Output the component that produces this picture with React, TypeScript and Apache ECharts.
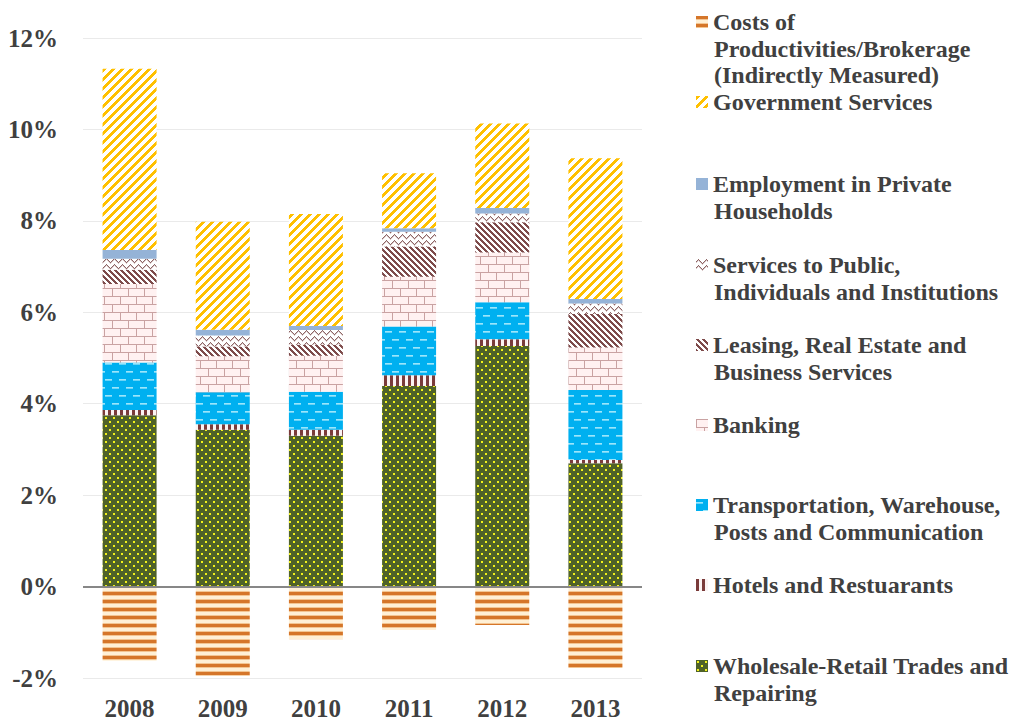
import React, { useEffect, useRef } from "react";
import * as echarts from "echarts";

const categories = ["2008", "2009", "2010", "2011", "2012", "2013"];

const wholesale = [3.75, 3.43, 3.3, 4.39, 5.26, 2.7];
const hotels = [0.11, 0.12, 0.13, 0.23, 0.15, 0.07];
const transport = [1.04, 0.7, 0.83, 1.07, 0.81, 1.53];
const banking = [1.72, 0.79, 0.79, 1.09, 1.09, 0.93];
const leasing = [0.31, 0.21, 0.24, 0.66, 0.66, 0.73];
const services = [0.24, 0.24, 0.32, 0.32, 0.19, 0.23];
const employment = [0.19, 0.13, 0.09, 0.08, 0.12, 0.1];
const government = [3.97, 2.36, 2.45, 1.2, 1.85, 3.08];
const costs = [-1.62, -1.95, -1.15, -0.95, -0.84, -1.78];

const yTicks = { min: -2, max: 12, interval: 2 };

const names = {
  wholesale: "Wholesale-Retail Trades and Repairing",
  hotels: "Hotels and Restuarants",
  transport: "Transportation, Warehouse, Posts and Communication",
  banking: "Banking",
  leasing: "Leasing, Real Estate and Business Services",
  services: "Services to Public, Individuals and Institutions",
  employment: "Employment in Private Households",
  government: "Government Services",
  costs: "Costs of Productivities/Brokerage (Indirectly Measured)",
};

const legendLines: { key: string; y: number; lines: string[] }[] = [
  { key: "costs", y: 22, lines: ["Costs of", "Productivities/Brokerage", "(Indirectly Measured)"] },
  { key: "government", y: 102, lines: ["Government Services"] },
  { key: "employment", y: 184, lines: ["Employment in Private", "Households"] },
  { key: "services", y: 265, lines: ["Services to Public,", "Individuals and Institutions"] },
  { key: "leasing", y: 345, lines: ["Leasing, Real Estate and", "Business Services"] },
  { key: "banking", y: 425, lines: ["Banking"] },
  { key: "transport", y: 505, lines: ["Transportation, Warehouse,", "Posts and Communication"] },
  { key: "hotels", y: 585, lines: ["Hotels and Restuarants"] },
  { key: "wholesale", y: 666, lines: ["Wholesale-Retail Trades and", "Repairing"] },
];

function makeTile(w: number, h: number, f: (x: number, y: number) => string) {
  const c = document.createElement("canvas");
  c.width = w;
  c.height = h;
  const ctx = c.getContext("2d")!;
  for (let y = 0; y < h; y++) {
    for (let x = 0; x < w; x++) {
      ctx.fillStyle = f(x, y);
      ctx.fillRect(x, y, 1, 1);
    }
  }
  return { image: c, repeat: "repeat", imageWidth: w, imageHeight: h } as any;
}

function buildPatterns() {
  const wholesaleP = makeTile(8, 8, (x, y) => {
    const d1 = x >= 1 && x <= 2 && y >= 1 && y <= 2;
    const d2 = x >= 5 && x <= 6 && y >= 5 && y <= 6;
    return d1 || d2 ? "#F2F21A" : "#4F6228";
  });
  const hotelsP = makeTile(6, 6, (x) => (x < 3 ? "#7A3B3A" : "#FBF3F3"));
  const transportP = makeTile(14, 16, (x, y) => {
    if ((y === 3 || y === 4) && x >= 0 && x < 7) return y === 3 ? "#9BE6FB" : "#6AD3F6";
    if ((y === 11 || y === 12) && x >= 7 && x < 14) return y === 11 ? "#9BE6FB" : "#6AD3F6";
    return "#00B0F0";
  });
  const bankingP = makeTile(16, 16, (x, y) => {
    if (y === 0 || y === 8) return "#C9A2A2";
    if (y < 8 && x === 0) return "#C9A2A2";
    if (y > 8 && x === 8) return "#C9A2A2";
    return "#FFF1F1";
  });
  const leasingP = makeTile(6, 6, (x, y) => (((x - y) % 6 + 6) % 6 < 3 ? "#7E4B4B" : "#FFFFFF"));
  const wave = [2, 1, 0, 1, 2, 3, 4, 3];
  const servicesP = makeTile(8, 6, (x, y) => (wave[x] === y ? "#8E6565" : y === wave[x] + 1 ? "#D8C6C6" : "#FFFFFF"));
  const governmentP = makeTile(9, 9, (x, y) => ((x + y) % 9 < 4 ? "#FFC000" : "#FFFFFF"));
  const costsP = makeTile(4, 8, (_x, y) => {
    if (y < 3) return "#D5762A";
    if (y === 3 || y === 7) return "#F3C592";
    return "#FFF0D6";
  });
  return {
    wholesale: wholesaleP,
    hotels: hotelsP,
    transport: transportP,
    banking: bankingP,
    leasing: leasingP,
    services: servicesP,
    employment: "#95B3D7",
    government: governmentP,
    costs: costsP,
  } as Record<string, any>;
}

export default function App() {
  const ref = useRef<HTMLDivElement>(null);

  useEffect(() => {
    if (!ref.current) return;
    const chart = echarts.init(ref.current, undefined, { renderer: "svg" });
    const pats = buildPatterns();
    const font = "Liberation Serif";
    const textColor = "#404040";
    const legendSize = 24;

    const dataMap: Record<string, number[]> = {
      wholesale,
      hotels,
      transport,
      banking,
      leasing,
      services,
      employment,
      government,
      costs,
    };
    const order = ["wholesale", "hotels", "transport", "banking", "leasing", "services", "employment", "government", "costs"];

    const series: any[] = order.map((k, i) => {
      const s: any = {
        name: (names as any)[k],
        type: "bar",
        stack: "total",
        barWidth: 54,
        data: dataMap[k],
        itemStyle: { color: pats[k] },
        emphasis: { disabled: true },
      };
      if (i === order.length - 1) {
        s.markLine = {
          silent: true,
          symbol: ["none", "none"],
          label: { show: false },
          lineStyle: { color: "#878787", width: 2, type: "solid" },
          data: [{ yAxis: 0 }],
          z: 10,
        };
      }
      return s;
    });

    const legends = legendLines.map((it) => ({
      data: [(names as any)[it.key]],
      left: 696,
      top: it.y - 13.5,
      padding: 0,
      orient: "vertical",
      icon: "rect",
      itemWidth: 12,
      itemHeight: 12,
      selectedMode: false,
      formatter: () => it.lines[0],
      textStyle: { fontFamily: font, fontWeight: "bold", fontSize: legendSize, color: textColor, lineHeight: 27 },
    }));

    const graphics: any[] = [];
    legendLines.forEach((it) => {
      it.lines.slice(1).forEach((ln, j) => {
        graphics.push({
          type: "text",
          x: 714,
          y: it.y + 26.5 * (j + 1),
          style: {
            text: ln,
            fill: textColor,
            font: `bold ${legendSize}px "${font}"`,
            verticalAlign: "middle",
            align: "left",
          },
        });
      });
    });

    chart.setOption({
      animation: false,
      backgroundColor: "#FFFFFF",
      grid: { left: 83, right: 370, top: 38, bottom: 40 },
      legend: legends,
      graphic: graphics,
      xAxis: {
        type: "category",
        data: categories,
        axisLine: { show: false, onZero: false },
        axisTick: { show: false },
        axisLabel: { margin: 18, fontFamily: font, fontWeight: "bold", fontSize: 25, color: textColor },
      },
      yAxis: {
        type: "value",
        min: yTicks.min,
        max: yTicks.max,
        interval: yTicks.interval,
        axisLine: { show: false },
        axisTick: { show: false },
        splitLine: { lineStyle: { color: "#EAEAEA", width: 1 } },
        axisLabel: {
          margin: 25,
          formatter: (v: number) => `${v}%`,
          fontFamily: font,
          fontWeight: "bold",
          fontSize: 25,
          color: textColor,
        },
      },
      series,
    });

    return () => chart.dispose();
  }, []);

  return <div ref={ref} style={{ position: "fixed", left: 0, top: 0, width: 1012, height: 721 }} />;
}
